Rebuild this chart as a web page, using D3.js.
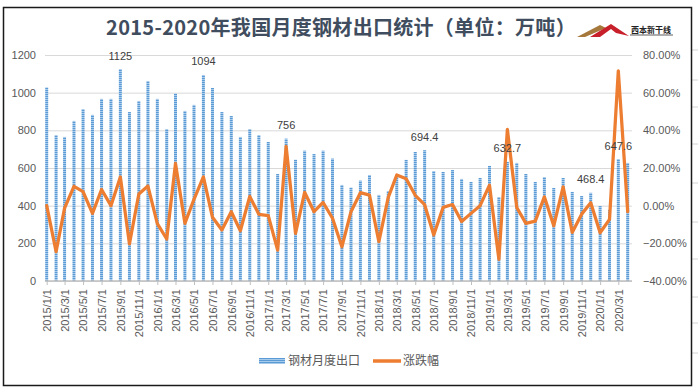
<!DOCTYPE html>
<html>
<head>
<meta charset="utf-8">
<script src="https://cdn.jsdelivr.net/npm/d3@7"></script>
<style>
  body { margin: 0; background: #fff; }
  svg { display: block; }
</style>
</head>
<body>
<div id="chart"></div>
<script>
// Months (category axis, date axis in the original)
var months = [
  "2015/1/1", "2015/2/1", "2015/3/1", "2015/4/1", "2015/5/1", "2015/6/1",
  "2015/7/1", "2015/8/1", "2015/9/1", "2015/10/1", "2015/11/1", "2015/12/1",
  "2016/1/1", "2016/2/1", "2016/3/1", "2016/4/1", "2016/5/1", "2016/6/1",
  "2016/7/1", "2016/8/1", "2016/9/1", "2016/10/1", "2016/11/1", "2016/12/1",
  "2017/1/1", "2017/2/1", "2017/3/1", "2017/4/1", "2017/5/1", "2017/6/1",
  "2017/7/1", "2017/8/1", "2017/9/1", "2017/10/1", "2017/11/1", "2017/12/1",
  "2018/1/1", "2018/2/1", "2018/3/1", "2018/4/1", "2018/5/1", "2018/6/1",
  "2018/7/1", "2018/8/1", "2018/9/1", "2018/10/1", "2018/11/1", "2018/12/1",
  "2019/1/1", "2019/2/1", "2019/3/1", "2019/4/1", "2019/5/1", "2019/6/1",
  "2019/7/1", "2019/8/1", "2019/9/1", "2019/10/1", "2019/11/1", "2019/12/1",
  "2020/1/1", "2020/2/1", "2020/3/1", "2020/4/1"
];

// 钢材月度出口 (万吨)
var exports = [
  1028, 775, 765, 850, 913, 882, 967, 967, 1125, 897, 956, 1062,
  967, 807, 995, 903, 935, 1094, 1025, 897, 876, 765, 807, 775,
  738, 568, 756, 644, 692, 674, 692, 650, 510, 496, 533, 563,
  457, 478, 563, 643, 685, 694.4, 584, 579, 589, 542, 526, 547,
  611, 446, 632.7, 627, 568, 526, 552, 494, 547, 473, 451, 468.4,
  398, 378, 647.6, 627
];

// 涨跌幅 (%)
var change = [
  0, -24.4, -1.3, 10.3, 7.4, -4.1, 8.6, 0, 15.2, -20.3, 6.2, 10.4,
  -9.5, -17.7, 22.4, -9.4, 3.4, 15.3, -6.2, -12.9, -3.2, -13.3, 4.9, -4.6,
  -5.3, -23.6, 31.5, -14.7, 7.1, -3.2, 1.7, -6.7, -21.8, -3.2, 6.9, 5.6,
  -19.1, 4.4, 16.3, 14.3, 5.5, 0.5, -15.6, -0.9, 0.6, -8.4, -4.1, 0,
  10.9, -28.5, 40.5, -1, -9.4, -8.2, 4.7, -10.7, 10, -14.2, -4.5, 1.5,
  -14.4, -7.3, 71.6, -3.2
];

// Months that carry a data label above the bar
var labeledMonths = ["2015/9/1", "2016/6/1", "2017/3/1", "2018/6/1", "2019/3/1", "2019/12/1", "2020/3/1"];

// Axis ticks
var leftTicks = [0, 200, 400, 600, 800, 1000, 1200];
var rightTicks = [-0.4, -0.2, 0, 0.2, 0.4, 0.6, 0.8];

var titleText = "2015-2020年我国月度钢材出口统计（单位：万吨）";
var seriesNames = ["钢材月度出口", "涨跌幅"];

// SVG size
var svgWidth = 698;
var svgHeight = 388;

// Plot area
var plot = { left: 45, right: 632, top: 55, bottom: 281 };

var parseDate = d3.timeParse("%Y/%-m/%-d");
var formatDate = d3.timeFormat("%Y/%-m/%-d");

var data = months.map(function(m, i) {
  return { date: parseDate(m), label: m, value: exports[i], pct: change[i] / 100 };
});

var svg = d3.select("#chart")
  .append("svg")
  .attr("width", svgWidth)
  .attr("height", svgHeight)
  .style("font-family", "'Liberation Sans', Arial, sans-serif");

// Faint worksheet cell lines outside the chart
var cellLines = [50, 80, 107, 144, 183, 222, 259, 297, 323, 353];
svg.append("g")
  .selectAll("line")
  .data(cellLines)
  .enter().append("line")
  .attr("x1", 692).attr("x2", svgWidth)
  .attr("y1", d => d).attr("y2", d => d)
  .attr("stroke", "#d4d4d4");

// Chart border
svg.append("rect")
  .attr("x", 3.5).attr("y", 7.5)
  .attr("width", 688).attr("height", 378)
  .attr("fill", "#fff")
  .attr("stroke", "#1a1a1a")
  .attr("stroke-width", 1.5);

// Stripe pattern for the bars
var defs = svg.append("defs");
var pattern = defs.append("pattern")
  .attr("id", "stripes")
  .attr("patternUnits", "userSpaceOnUse")
  .attr("width", 4)
  .attr("height", 2);
pattern.append("rect").attr("width", 4).attr("height", 1).attr("fill", "#5b9bd5");
pattern.append("rect").attr("y", 1).attr("width", 4).attr("height", 1).attr("fill", "#a9cbeb");

// Scales
var x = d3.scaleTime()
  .domain([data[0].date, data[data.length - 1].date])
  .range([46.7, 627.7]);

var yLeft = d3.scaleLinear()
  .domain([0, 1200])
  .range([plot.bottom, plot.top]);

var yRight = d3.scaleLinear()
  .domain([-0.4, 0.8])
  .range([plot.bottom, plot.top]);

// Gridlines
var grid = svg.append("g")
  .attr("transform", `translate(${plot.left}, 0)`)
  .call(d3.axisLeft(yLeft).tickValues(leftTicks).tickSize(-(plot.right - plot.left)).tickFormat(""));
grid.select(".domain").remove();
grid.selectAll("line").attr("stroke", "#d9d9d9");

// Left axis
var leftAxis = svg.append("g")
  .attr("transform", "translate(36, 0)")
  .call(d3.axisLeft(yLeft).tickValues(leftTicks).tickSize(0).tickPadding(0).tickFormat(d3.format("d")));
leftAxis.select(".domain").remove();
leftAxis.selectAll("text")
  .attr("fill", "#595959")
  .style("font-size", "11px");

// Right axis
var rightAxis = svg.append("g")
  .attr("transform", "translate(643, 0)")
  .call(d3.axisRight(yRight).tickValues(rightTicks).tickSize(0).tickPadding(0).tickFormat(d3.format(".2%")));
rightAxis.select(".domain").remove();
rightAxis.selectAll("text")
  .attr("fill", "#595959")
  .style("font-size", "11px");

// Bars
svg.append("g")
  .selectAll("rect")
  .data(data)
  .enter().append("rect")
  .attr("x", d => x(d.date) - 1.5)
  .attr("y", d => yLeft(d.value))
  .attr("width", 3)
  .attr("height", d => yLeft(0) - yLeft(d.value))
  .attr("fill", "url(#stripes)");

// Bottom axis
var tickDates = data.filter((d, i) => i % 2 === 0).map(d => d.date);
var bottomAxis = svg.append("g")
  .attr("transform", `translate(0, ${plot.bottom})`)
  .call(d3.axisBottom(x).tickValues(tickDates).tickSize(4).tickFormat(formatDate));
bottomAxis.select(".domain").remove();
bottomAxis.selectAll("line").attr("stroke", "#bfbfbf");
bottomAxis.selectAll("text")
  .attr("fill", "#595959")
  .style("font-size", "11px")
  .attr("text-anchor", "end")
  .attr("transform", "rotate(-90)")
  .attr("x", -8)
  .attr("y", 0)
  .attr("dy", "0.35em");

svg.append("line")
  .attr("x1", plot.left).attr("x2", plot.right)
  .attr("y1", plot.bottom).attr("y2", plot.bottom)
  .attr("stroke", "#bfbfbf")
  .attr("stroke-width", 1.5);

// Change line
var line = d3.line()
  .x(d => x(d.date))
  .y(d => yRight(d.pct));

svg.append("path")
  .datum(data)
  .attr("d", line)
  .attr("fill", "none")
  .attr("stroke", "#ed7d31")
  .attr("stroke-width", 3.25)
  .attr("stroke-linejoin", "round")
  .attr("stroke-linecap", "round");

// Data labels
svg.append("g")
  .selectAll("text")
  .data(data.filter(d => labeledMonths.indexOf(d.label) >= 0))
  .enter().append("text")
  .attr("x", d => x(d.date))
  .attr("y", d => yLeft(d.value) - 9.5)
  .attr("text-anchor", "middle")
  .attr("fill", "#404040")
  .style("font-size", "11px")
  .text(d => String(d.value));

// Title
svg.append("text")
  .attr("x", 341)
  .attr("y", 34.5)
  .attr("text-anchor", "middle")
  .attr("fill", "#404d5e")
  .style("font-family", "'Noto Sans CJK SC', sans-serif")
  .style("font-weight", "bold")
  .style("font-size", "20px")
  .style("letter-spacing", "0.3px")
  .text(titleText);

// Logo (rough sketch)
var logo = svg.append("g");
logo.append("polygon")
  .attr("points", "577,37 600,25 606,28 585,37")
  .attr("fill", "#a6783c");
logo.append("polygon")
  .attr("points", "590,37 611,24 629,36 616,33 611,29 600,37")
  .attr("fill", "#c8202a");
logo.append("text")
  .attr("x", 631).attr("y", 33)
  .attr("fill", "#222")
  .style("font-family", "'Noto Sans CJK SC', sans-serif")
  .style("font-weight", "bold")
  .style("font-size", "8px")
  .text("西本新干线");
logo.append("line")
  .attr("x1", 630).attr("x2", 673)
  .attr("y1", 35).attr("y2", 35)
  .attr("stroke", "#333").attr("stroke-width", 0.8);

// Legend
var legend = svg.append("g").style("font-family", "'Noto Sans CJK SC', sans-serif");
legend.append("rect")
  .attr("x", 259).attr("y", 358)
  .attr("width", 26).attr("height", 6)
  .attr("fill", "url(#stripes)");
legend.append("text")
  .attr("x", 288).attr("y", 365)
  .attr("fill", "#595959")
  .style("font-size", "12px")
  .text(seriesNames[0]);
legend.append("line")
  .attr("x1", 373).attr("x2", 401)
  .attr("y1", 361).attr("y2", 361)
  .attr("stroke", "#ed7d31")
  .attr("stroke-width", 3.5);
legend.append("text")
  .attr("x", 403).attr("y", 365)
  .attr("fill", "#595959")
  .style("font-size", "12px")
  .text(seriesNames[1]);
</script>
</body>
</html>
